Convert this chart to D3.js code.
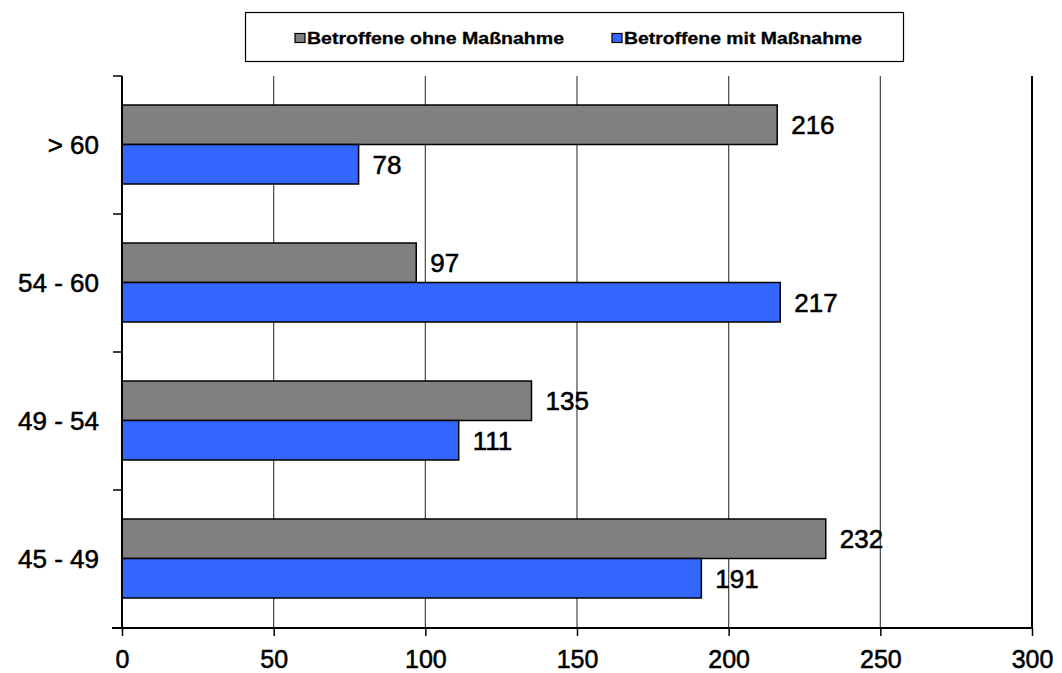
<!DOCTYPE html>
<html>
<head>
<meta charset="utf-8">
<script src="https://cdn.jsdelivr.net/npm/d3@7"></script>
<style>
  html, body { margin: 0; padding: 0; background: #fff; }
  svg { display: block; }
  .lbl { font-family: "Liberation Sans", Arial, sans-serif; fill: #000; stroke: #000; stroke-width: 0.55px; }
</style>
</head>
<body>
<svg id="chart" width="1062" height="673"></svg>
<script>
// Age groups, top to bottom
const categories = ["> 60", "54 - 60", "49 - 54", "45 - 49"];
const seriesNames = ["Betroffene ohne Maßnahme", "Betroffene mit Maßnahme"];
const ohneMassnahme = [216, 97, 135, 232];
const mitMassnahme = [78, 217, 111, 191];
const xTicks = [0, 50, 100, 150, 200, 250, 300];
const colors = ["#808080", "#3366FF"];

const svg = d3.select("#chart");
const plotTop = 76, plotBottom = 628;

const x = d3.scaleLinear().domain([0, 300]).range([122, 1032]);
const y = d3.scaleBand().domain(categories).range([plotTop, plotBottom]);
const inner = d3.scaleBand().domain([0, 1]).range([29, y.bandwidth() - 30]);

// vertical gridlines
svg.append("g").selectAll("line").data(xTicks.filter(d => d > 0)).join("line")
  .attr("x1", d => x(d)).attr("x2", d => x(d))
  .attr("y1", plotTop).attr("y2", plotBottom)
  .attr("stroke", d => d === 300 ? "#000" : "#444")
  .attr("stroke-width", d => d === 300 ? 2 : 1.2);

// bars
const rows = categories.map((c, i) => ({ c, vals: [ohneMassnahme[i], mitMassnahme[i]] }));
const groups = svg.append("g").selectAll("g").data(rows).join("g")
  .attr("transform", d => `translate(0,${y(d.c)})`);

groups.selectAll("rect").data(d => d.vals.map((v, k) => ({ v, k }))).join("rect")
  .attr("x", x(0))
  .attr("y", d => inner(d.k))
  .attr("width", d => x(d.v) - x(0))
  .attr("height", inner.bandwidth())
  .attr("fill", d => colors[d.k])
  .attr("stroke", "#000")
  .attr("stroke-width", 1.5);

groups.selectAll("text").data(d => d.vals.map((v, k) => ({ v, k }))).join("text")
  .attr("class", "lbl")
  .attr("x", d => x(d.v) + 14)
  .attr("y", d => inner(d.k) + inner.bandwidth() / 2)
  .attr("dy", "0.36em")
  .attr("font-size", 26)
  .text(d => d.v);

// x axis
const xAxis = svg.append("g").attr("transform", `translate(0,${plotBottom})`)
  .call(d3.axisBottom(x).tickValues(xTicks).tickSize(8).tickPadding(14));
xAxis.select(".domain").attr("stroke", "#000").attr("stroke-width", 2)
  .attr("d", `M${x(0) - 10},0H${x(300)}`);
xAxis.selectAll(".tick line").attr("stroke", "#000").attr("stroke-width", 1.5);
xAxis.selectAll(".tick text").attr("class", "lbl").attr("font-size", 25);

// y axis with ticks on category boundaries
svg.append("line").attr("x1", x(0)).attr("x2", x(0)).attr("y1", plotTop).attr("y2", plotBottom)
  .attr("stroke", "#000").attr("stroke-width", 2);
const boundaries = categories.map(c => y(c)).concat([plotBottom]);
svg.append("g").selectAll("line").data(boundaries).join("line")
  .attr("x1", x(0) - 9).attr("x2", x(0))
  .attr("y1", d => d).attr("y2", d => d)
  .attr("stroke", "#000").attr("stroke-width", 1.5);
svg.append("g").selectAll("text").data(categories).join("text")
  .attr("class", "lbl")
  .attr("x", 99)
  .attr("y", d => y(d) + y.bandwidth() / 2)
  .attr("dy", "0.36em")
  .attr("text-anchor", "end")
  .attr("font-size", 26)
  .text(d => d);

// legend
const legend = svg.append("g");
legend.append("rect").attr("x", 245.5).attr("y", 12.5).attr("width", 658).attr("height", 49)
  .attr("fill", "#fff").attr("stroke", "#000").attr("stroke-width", 1.2);
const legendX = [295, 612];
const legendW = [257, 238];
seriesNames.forEach((name, i) => {
  legend.append("rect").attr("x", legendX[i]).attr("y", 33.5).attr("width", 10).attr("height", 9)
    .attr("fill", colors[i]).attr("stroke", "#000").attr("stroke-width", 1.2);
  legend.append("text").attr("class", "lbl")
    .attr("x", legendX[i] + 12).attr("y", 38).attr("dy", "0.36em")
    .attr("font-weight", "bold").attr("font-size", 17)
    .attr("textLength", legendW[i]).attr("lengthAdjust", "spacingAndGlyphs")
    .style("stroke-width", "0.3px")
    .text(name);
});
</script>
</body>
</html>
